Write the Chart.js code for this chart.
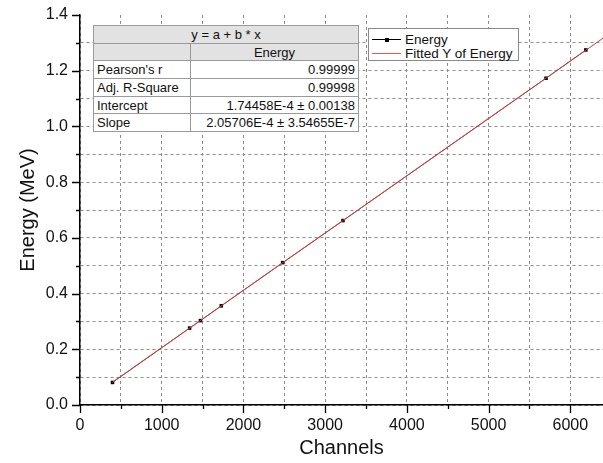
<!DOCTYPE html>
<html>
<head>
<meta charset="utf-8">
<script src="https://cdn.jsdelivr.net/npm/chart.js@4/dist/chart.umd.min.js"></script>
<style>
  html, body { margin: 0; padding: 0; background: #fff; }
  #wrap { position: relative; width: 603px; height: 463px; overflow: hidden; font-family: "Liberation Sans", Arial, sans-serif; }
  #c { position: absolute; left: 0; top: 0; }
  #fit-table {
    position: absolute; left: 93px; top: 25px; width: 266px;
    border-collapse: collapse; font-size: 13px; color: #111; background: #fff;
  }
  #fit-table td { border: 1px solid #9a9a9a; height: 16.7px; padding: 0 3px; line-height: 15px; white-space: nowrap; }
  #fit-table tr.hd td { background: #e2e2e2; text-align: center; }
  #fit-table td.v { text-align: right; }
  #fit-table td.k { width: 90px; }
  #legend {
    position: absolute; left: 368px; top: 28px; width: 151px; height: 33px;
    border: 1px solid #8a8a8a; background: #fff; box-sizing: border-box; font-size: 13.5px; color: #111;
  }
  .li { position: absolute; left: 0; width: 148px; height: 15px; line-height: 15px; white-space: nowrap; }
  .li .smp { position: absolute; left: 3px; top: 7px; width: 29px; height: 0; border-top: 1px solid; }
  .li .dot { position: absolute; left: 12.5px; top: -2.5px; width: 4px; height: 4px; background: #000; }
  .li span { position: absolute; left: 36px; top: 0; }
</style>
</head>
<body>
<div id="wrap">
  <canvas id="c" width="603" height="463"></canvas>
  <table id="fit-table">
    <tr class="hd"><td colspan="2" id="eq"></td></tr>
    <tr class="hd"><td></td><td id="colname"></td></tr>
  </table>
  <div id="legend">
    <div class="li" style="top:3px;"><div class="smp" style="border-color:#000"><div class="dot"></div></div><span id="lg0"></span></div>
    <div class="li" style="top:17px;"><div class="smp" style="border-color:#ee5555"></div><span id="lg1"></span></div>
  </div>
</div>
<script>
// Calibration points: peak channel vs. known gamma energy
const channels = [398, 1341, 1474, 1729, 2480, 3218, 5703, 6190];
const energies = [0.081, 0.276, 0.303, 0.356, 0.511, 0.662, 1.173, 1.2745];

// Linear fit parameters, as reported in the results table
const fitIntercept = 1.74458e-4;
const fitSlope = 2.05706e-4;
const fitRows = [
  ["Pearson's r", "0.99999"],
  ["Adj. R-Square", "0.99998"],
  ["Intercept", "1.74458E-4 \u00b1 0.00138"],
  ["Slope", "2.05706E-4 \u00b1 3.54655E-7"]
];

const seriesNames = ["Energy", "Fitted Y of Energy"];
const xTitle = "Channels";
const yTitle = "Energy (MeV)";
const xRange = [0, 6400];
const yRange = [0, 1.4];
const xTickValues = [0, 500, 1000, 1500, 2000, 2500, 3000, 3500, 4000, 4500, 5000, 5500, 6000];

// Fitted line spans from the first calibration channel to the axis end
const fitX = [channels[0], xRange[1]];
const fitY = fitX.map(x => fitIntercept + fitSlope * x);

// Results table
document.getElementById('eq').textContent = 'y = a + b * x';
document.getElementById('colname').textContent = seriesNames[0];
const tbl = document.getElementById('fit-table');
fitRows.forEach(r => {
  const tr = document.createElement('tr');
  const a = document.createElement('td'); a.className = 'k'; a.textContent = r[0];
  const b = document.createElement('td'); b.className = 'v'; b.textContent = r[1];
  tr.appendChild(a); tr.appendChild(b); tbl.appendChild(tr);
});
document.getElementById('lg0').textContent = seriesNames[0];
document.getElementById('lg1').textContent = seriesNames[1];

// Outward major/minor tick marks on both axes
const tickMarks = {
  id: 'tickMarks',
  afterDraw(chart) {
    const ctx = chart.ctx;
    const xs = chart.scales.x, ys = chart.scales.y;
    const area = chart.chartArea;
    ctx.save();
    ctx.strokeStyle = '#000';
    ctx.lineWidth = 1.3;
    ctx.beginPath();
    for (let k = 0; k <= 14; k++) {
      const y = Math.round(ys.getPixelForValue(k / 10)) + 0.5;
      const len = (k % 2 === 0) ? 8 : 4;
      ctx.moveTo(area.left - len, y); ctx.lineTo(area.left, y);
    }
    xTickValues.forEach(v => {
      const x = Math.round(xs.getPixelForValue(v)) + 0.5;
      const len = (v % 1000 === 0) ? 8 : 4;
      ctx.moveTo(x, area.bottom); ctx.lineTo(x, area.bottom + len);
    });
    ctx.stroke();
    ctx.restore();
  }
};

new Chart(document.getElementById('c'), {
  type: 'scatter',
  data: {
    datasets: [
      {
        label: seriesNames[1],
        data: fitX.map((x, i) => ({ x, y: fitY[i] })),
        showLine: true,
        borderColor: '#dc3636',
        borderWidth: 1,
        pointRadius: 0,
        order: 1
      },
      {
        label: seriesNames[0],
        data: channels.map((x, i) => ({ x, y: energies[i] })),
        showLine: true,
        borderColor: 'rgba(40,0,0,0.7)',
        borderWidth: 1,
        backgroundColor: '#000',
        pointStyle: 'rect',
        pointRadius: 2.5,
        pointBorderWidth: 0,
        order: 2
      }
    ]
  },
  options: {
    responsive: false,
    animation: false,
    devicePixelRatio: 1,
    layout: { autoPadding: false, padding: { top: 15, right: 0, left: 0, bottom: 0 } },
    plugins: { legend: { display: false }, tooltip: { enabled: false } },
    scales: {
      x: {
        type: 'linear',
        min: xRange[0], max: xRange[1],
        afterFit: s => { s.height = 58; s.paddingLeft = 0; s.paddingRight = 0; },
        afterBuildTicks: s => { s.ticks = xTickValues.map(v => ({ value: v })); },
        border: { display: true, color: '#000', width: 1.5, dash: [3, 3] },
        grid: {
          drawTicks: false,
          color: '#8c8c8c',
          lineWidth: 1
        },
        ticks: {
          padding: 11,
          maxRotation: 0,
          minRotation: 0,
          autoSkip: false,
          color: '#111',
          font: { family: '"Liberation Sans", Arial, sans-serif', size: 16 },
          callback: v => (v % 1000 === 0 ? String(v) : '')
        },
        title: {
          display: true, text: xTitle, color: '#111',
          font: { family: '"Liberation Sans", Arial, sans-serif', size: 20 },
          padding: { top: 0, bottom: 3 }
        }
      },
      y: {
        type: 'linear',
        min: yRange[0], max: yRange[1],
        afterFit: s => { s.width = 80; s.paddingTop = 0; s.paddingBottom = 0; },
        border: { display: true, color: '#000', width: 1.5, dash: [3, 3] },
        grid: {
          drawTicks: false,
          color: c => (c.tick && Math.abs(c.tick.value - yRange[1]) < 1e-9 ? 'rgba(0,0,0,0)' : '#8c8c8c'),
          lineWidth: 1
        },
        ticks: {
          stepSize: 0.1,
          padding: 12,
          autoSkip: false,
          color: '#111',
          font: { family: '"Liberation Sans", Arial, sans-serif', size: 16 },
          callback: v => (Math.round(v * 10) % 2 === 0 ? (Math.round(v * 10) / 10).toFixed(1) : '')
        },
        title: {
          display: true, text: yTitle, color: '#111',
          font: { family: '"Liberation Sans", Arial, sans-serif', size: 20 },
          padding: { top: 16, bottom: 0 }
        }
      }
    }
  },
  plugins: [tickMarks]
});
</script>
</body>
</html>
